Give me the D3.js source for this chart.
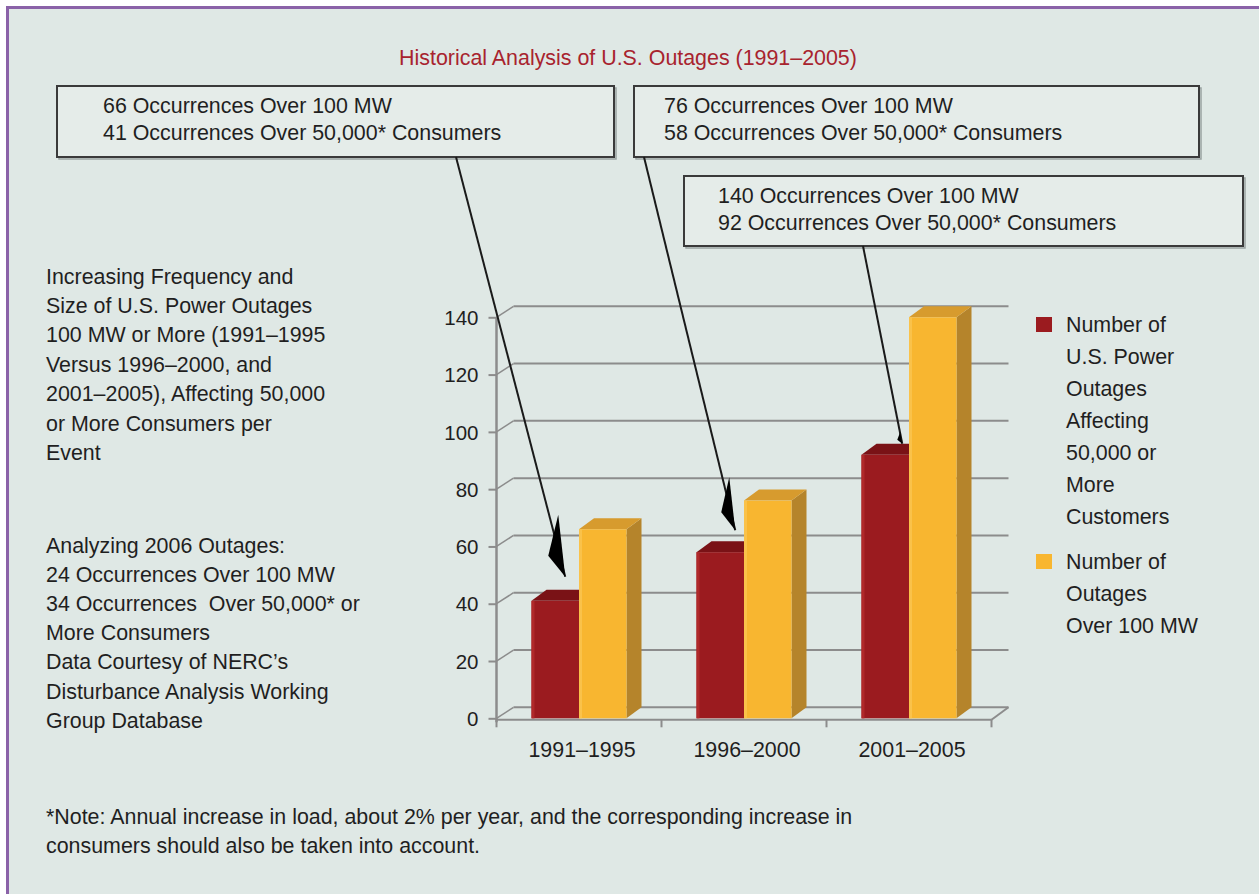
<!DOCTYPE html>
<html><head><meta charset="utf-8">
<script src="https://cdn.jsdelivr.net/npm/d3@7"></script>
<style>
html,body{margin:0;padding:0;background:#fff;}
svg{display:block;font-family:"Liberation Sans",Arial,Helvetica,sans-serif;}
</style></head>
<body>
<svg id="chart" width="1259" height="894"></svg>
<script>
// ---- data ----
const categories = ["1991–1995", "1996–2000", "2001–2005"];
const consumers50k = [41, 58, 92];     // outages affecting 50,000+ customers
const over100MW = [66, 76, 140];       // outages over 100 MW
const yTicks = [0, 20, 40, 60, 80, 100, 120, 140];
const seriesNames = [
  ["Number of", "U.S. Power", "Outages", "Affecting", "50,000 or", "More", "Customers"],
  ["Number of", "Outages", "Over 100 MW"]
];
const title = "Historical Analysis of U.S. Outages (1991–2005)";
const boxTexts = [
  ["66 Occurrences Over 100 MW", "41 Occurrences Over 50,000* Consumers"],
  ["76 Occurrences Over 100 MW", "58 Occurrences Over 50,000* Consumers"],
  ["140 Occurrences Over 100 MW", "92 Occurrences Over 50,000* Consumers"]
];
const leftText1 = ["Increasing Frequency and", "Size of U.S. Power Outages", "100 MW or More (1991–1995",
  "Versus 1996–2000, and", "2001–2005), Affecting 50,000", "or More Consumers per", "Event"];
const leftText2 = ["Analyzing 2006 Outages:", "24 Occurrences Over 100 MW", "34 Occurrences  Over 50,000* or",
  "More Consumers", "Data Courtesy of NERC’s", "Disturbance Analysis Working", "Group Database"];
const noteText = ["*Note: Annual increase in load, about 2% per year, and the corresponding increase in",
  "consumers should also be taken into account."];

// ---- layout ----
const svg = d3.select("#chart");
const BG = "#dfe8e5";
svg.append("rect").attr("x", 6).attr("y", 6).attr("width", 1259).attr("height", 894).attr("fill", BG);
svg.append("line").attr("x1", 6).attr("x2", 1259).attr("y1", 7.5).attr("y2", 7.5).attr("stroke", "#8a62a8").attr("stroke-width", 3);
svg.append("line").attr("x1", 7.5).attr("x2", 7.5).attr("y1", 6).attr("y2", 894).attr("stroke", "#8a62a8").attr("stroke-width", 3);

const FS = 21.4;
const txt = "#1f1f1f";

svg.append("text").attr("x", 628).attr("y", 65).attr("text-anchor", "middle")
  .attr("font-size", FS).attr("fill", "#a8232e").text(title);

const x0 = 496.5, x1 = 991.5, yBase = 718.3, yTop = 317.3;
const x = d3.scaleBand().domain(categories).range([x0, x1]).paddingInner(0).paddingOuter(0);
const y = d3.scaleLinear().domain([0, 140]).range([yBase, yTop]);
const barW = 47.5;
const wallDX = 17, wallDY = -11;
const dX = 15, dY = -11;
const grid = "#8c8c8c";

// back-wall gridlines + diagonals
const g = svg.append("g");
yTicks.forEach(v => {
  g.append("line").attr("x1", x0 + wallDX).attr("x2", x1 + wallDX)
    .attr("y1", y(v) + wallDY).attr("y2", y(v) + wallDY).attr("stroke", grid).attr("stroke-width", 2);
  g.append("line").attr("x1", x0).attr("x2", x0 + wallDX)
    .attr("y1", y(v)).attr("y2", y(v) + wallDY).attr("stroke", grid).attr("stroke-width", 1.5);
});
// floor front line and right diagonal
g.append("line").attr("x1", x0).attr("x2", x1).attr("y1", yBase + 1.5).attr("y2", yBase + 1.5).attr("stroke", grid).attr("stroke-width", 2);
g.append("line").attr("x1", x1).attr("x2", x1 + wallDX).attr("y1", yBase + 1.5).attr("y2", yBase + wallDY).attr("stroke", grid).attr("stroke-width", 2);

// y axis
const yAxis = d3.axisLeft(y).tickValues(yTicks).tickSize(8).tickPadding(10);
const ya = svg.append("g").attr("transform", `translate(${x0},0)`).call(yAxis);
ya.select(".domain").attr("stroke", grid).attr("stroke-width", 2.5).attr("d", `M0,${yTop}V${yBase + 4}`);
ya.selectAll(".tick line").attr("stroke", grid).attr("stroke-width", 2);
ya.selectAll(".tick text").attr("font-size", 20.5).attr("fill", txt).attr("font-family", "Liberation Sans, Arial, sans-serif").attr("dy", "0.35em");

// x axis
const xAxis = d3.axisBottom(x).tickSize(0).tickPadding(22);
const xa = svg.append("g").attr("transform", `translate(0,${yBase + 1.5})`).call(xAxis);
xa.select(".domain").remove();
xa.selectAll(".tick text").attr("font-size", FS).attr("fill", txt).attr("font-family", "Liberation Sans, Arial, sans-serif").attr("dx", 3);
// category boundary ticks
const bounds = categories.map(c => x(c)).concat([x1]);
bounds.forEach(b => {
  svg.append("line").attr("x1", b).attr("x2", b).attr("y1", yBase + 1).attr("y2", yBase + 9).attr("stroke", grid).attr("stroke-width", 2);
});

// 3D bars
function bar3d(parent, xl, v, front, top, side, edge) {
  const yt = y(v), yb = yBase;
  const gb = parent.append("g");
  gb.append("path").attr("d", `M${xl + barW},${yb}L${xl + barW + dX},${yb + dY}L${xl + barW + dX},${yt + dY}L${xl + barW},${yt}Z`).attr("fill", side);
  gb.append("path").attr("d", `M${xl},${yt}L${xl + dX},${yt + dY}L${xl + barW + dX},${yt + dY}L${xl + barW},${yt}Z`).attr("fill", top);
  gb.append("rect").attr("x", xl).attr("y", yt).attr("width", barW).attr("height", yb - yt).attr("fill", front);
  gb.append("rect").attr("x", xl).attr("y", yt).attr("width", 3).attr("height", yb - yt).attr("fill", edge);
}
const bars = svg.append("g");
categories.forEach((c, i) => {
  const cx = x(c) + x.bandwidth() / 2;
  bar3d(bars, cx - barW, consumers50k[i], "#9b1b1f", "#7a1216", "#6e1014", "#b0292a");
  bar3d(bars, cx, over100MW[i], "#f8b630", "#d79b2e", "#b5842b", "#fac24a");
});

// annotation boxes
const boxes = [
  {x: 57, y: 86, w: 557, h: 71, tx: 103},
  {x: 634, y: 86, w: 565, h: 71, tx: 664},
  {x: 684, y: 176, w: 559, h: 70, tx: 718}
];
boxes.forEach((b, i) => {
  svg.append("rect").attr("x", b.x + 2).attr("y", b.y + 2).attr("width", b.w).attr("height", b.h).attr("fill", "none").attr("stroke", "#9aa3a1").attr("stroke-width", 1.5);
  svg.append("rect").attr("x", b.x).attr("y", b.y).attr("width", b.w).attr("height", b.h).attr("fill", "#e5ece9").attr("stroke", "#3a3a3a").attr("stroke-width", 2);
  boxTexts[i].forEach((t, j) => {
    svg.append("text").attr("x", b.tx).attr("y", b.y + 27 + j * 27).attr("font-size", FS).attr("fill", txt).text(t);
  });
});

// arrows from boxes to the red bars
const arrowStarts = [[456, 157], [644, 157], [863, 246]];
const tipOffsets = [[10, -24], [15, -22], [17, -11]];
const heads = [
  [[-7, -62], [-17, -21]],
  [[-6, -53], [-14, -18]],
  [[-2, -12], [-5, -4]]
];
categories.forEach((c, i) => {
  const cx = x(c) + x.bandwidth() / 2 - barW / 2;
  const tx = cx + tipOffsets[i][0], ty = y(consumers50k[i]) + tipOffsets[i][1];
  svg.append("line").attr("x1", arrowStarts[i][0]).attr("y1", arrowStarts[i][1]).attr("x2", tx).attr("y2", ty)
    .attr("stroke", "#1a1a1a").attr("stroke-width", 2);
  const h = heads[i];
  svg.append("path").attr("d", `M${tx},${ty}L${tx + h[0][0]},${ty + h[0][1]}L${tx + h[1][0]},${ty + h[1][1]}Z`).attr("fill", "#000");
});

// left text blocks
leftText1.forEach((t, i) => svg.append("text").attr("x", 46).attr("y", 283.5 + i * 29.4).attr("font-size", FS).attr("fill", txt).text(t));
leftText2.forEach((t, i) => svg.append("text").attr("x", 46).attr("y", 552.5 + i * 29.2).attr("font-size", FS).attr("fill", txt).style("white-space", "pre").text(t));

// legend
const legColors = ["#9b1b1f", "#f8b630"];
const legY = [324, 561];
seriesNames.forEach((lines, k) => {
  svg.append("rect").attr("x", 1036).attr("y", legY[k] - 7).attr("width", 16).attr("height", 15).attr("fill", legColors[k]);
  lines.forEach((t, i) => svg.append("text").attr("x", 1066).attr("y", legY[k] + 7.5 + i * 32).attr("font-size", FS).attr("fill", txt).text(t));
});

// note
noteText.forEach((t, i) => svg.append("text").attr("x", 46).attr("y", 824 + i * 29).attr("font-size", FS).attr("fill", txt).text(t));
</script>
</body></html>
